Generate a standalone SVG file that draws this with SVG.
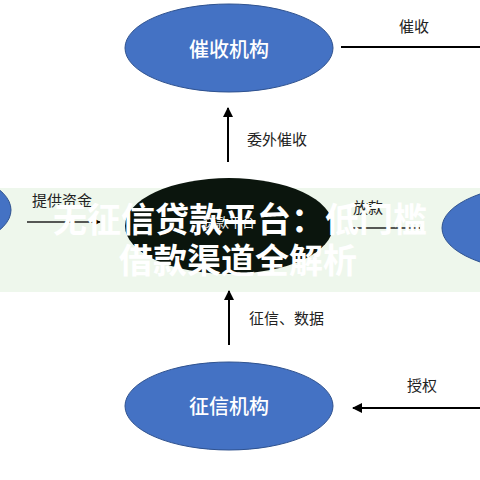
<svg xmlns="http://www.w3.org/2000/svg" width="480" height="480" viewBox="0 0 480 480">
<defs>
<style>
.node{fill:#4472c4;stroke:#2f528f;stroke-width:1}
.ntext{font-family:"Noto Sans CJK SC","Noto Sans",sans-serif;font-size:20px;fill:#ffffff;text-anchor:middle;font-weight:500}
.lbl{font-family:"Noto Sans CJK SC","Noto Sans",sans-serif;font-size:15px;fill:#222222}
.edge{stroke:#000000;stroke-width:2;fill:none}
.title{font-family:"Noto Sans CJK SC","Noto Sans",sans-serif;font-size:34px;font-weight:bold;fill:#ffffff;text-anchor:middle}
</style>
<marker id="arr" viewBox="0 0 10 10" refX="9" refY="5" markerWidth="5" markerHeight="5" orient="auto"><path d="M0,0 L10,5 L0,10 z" fill="#000"/></marker>
<clipPath id="band"><rect x="0" y="188" width="480" height="104"/></clipPath>
</defs>
<rect width="480" height="480" fill="#ffffff"/>
<rect x="0" y="188" width="480" height="104" fill="#eef7ec"/>
<g id="node-collect"><ellipse class="node" cx="229" cy="48" rx="104" ry="44"/><text class="ntext" x="229" y="57">催收机构</text></g>
<g id="node-credit"><ellipse class="node" cx="229" cy="406" rx="104" ry="44"/><text class="ntext" x="229" y="414">征信机构</text></g>
<g id="node-left" clip-path="url(#band)"><ellipse class="node" cx="-93" cy="210" rx="104" ry="44"/></g>
<g id="node-right" clip-path="url(#band)"><ellipse class="node" cx="546" cy="228" rx="104" ry="44"/></g>
<g id="node-platform"><ellipse cx="229" cy="226" rx="104" ry="48" fill="#0b150d"/><text x="229" y="227" font-family="Noto Sans CJK SC, sans-serif" font-size="13" fill="#ffffff" text-anchor="middle">贷款平台</text></g>
<g id="connectors">
<line class="edge" x1="341" y1="47" x2="480" y2="47"/>
<line class="edge" x1="228" y1="162" x2="228" y2="108" marker-end="url(#arr)"/>
<line class="edge" x1="229" y1="345" x2="229" y2="291" marker-end="url(#arr)"/>
<line class="edge" x1="480" y1="408" x2="353" y2="408" marker-end="url(#arr)"/>
<line x1="27" y1="222" x2="100" y2="222" stroke="#222" stroke-width="1.5" marker-end="url(#arr)"/>
<line x1="353" y1="228" x2="420" y2="228" stroke="#222" stroke-width="1.5"/>
</g>
<g id="labels">
<text class="lbl" x="399" y="32">催收</text>
<text class="lbl" x="247" y="145">委外催收</text>
<text class="lbl" x="249" y="324">征信、数据</text>
<text class="lbl" x="407" y="391">授权</text>
<text class="lbl" x="32" y="206" font-size="14">提供资金</text>
<text class="lbl" x="353" y="213" font-size="14">放款</text>
</g>
<g id="title">
<text class="title" x="240" y="232">无征信贷款平台：低门槛</text>
<text class="title" x="238" y="273">借款渠道全解析</text>
</g>
</svg>
